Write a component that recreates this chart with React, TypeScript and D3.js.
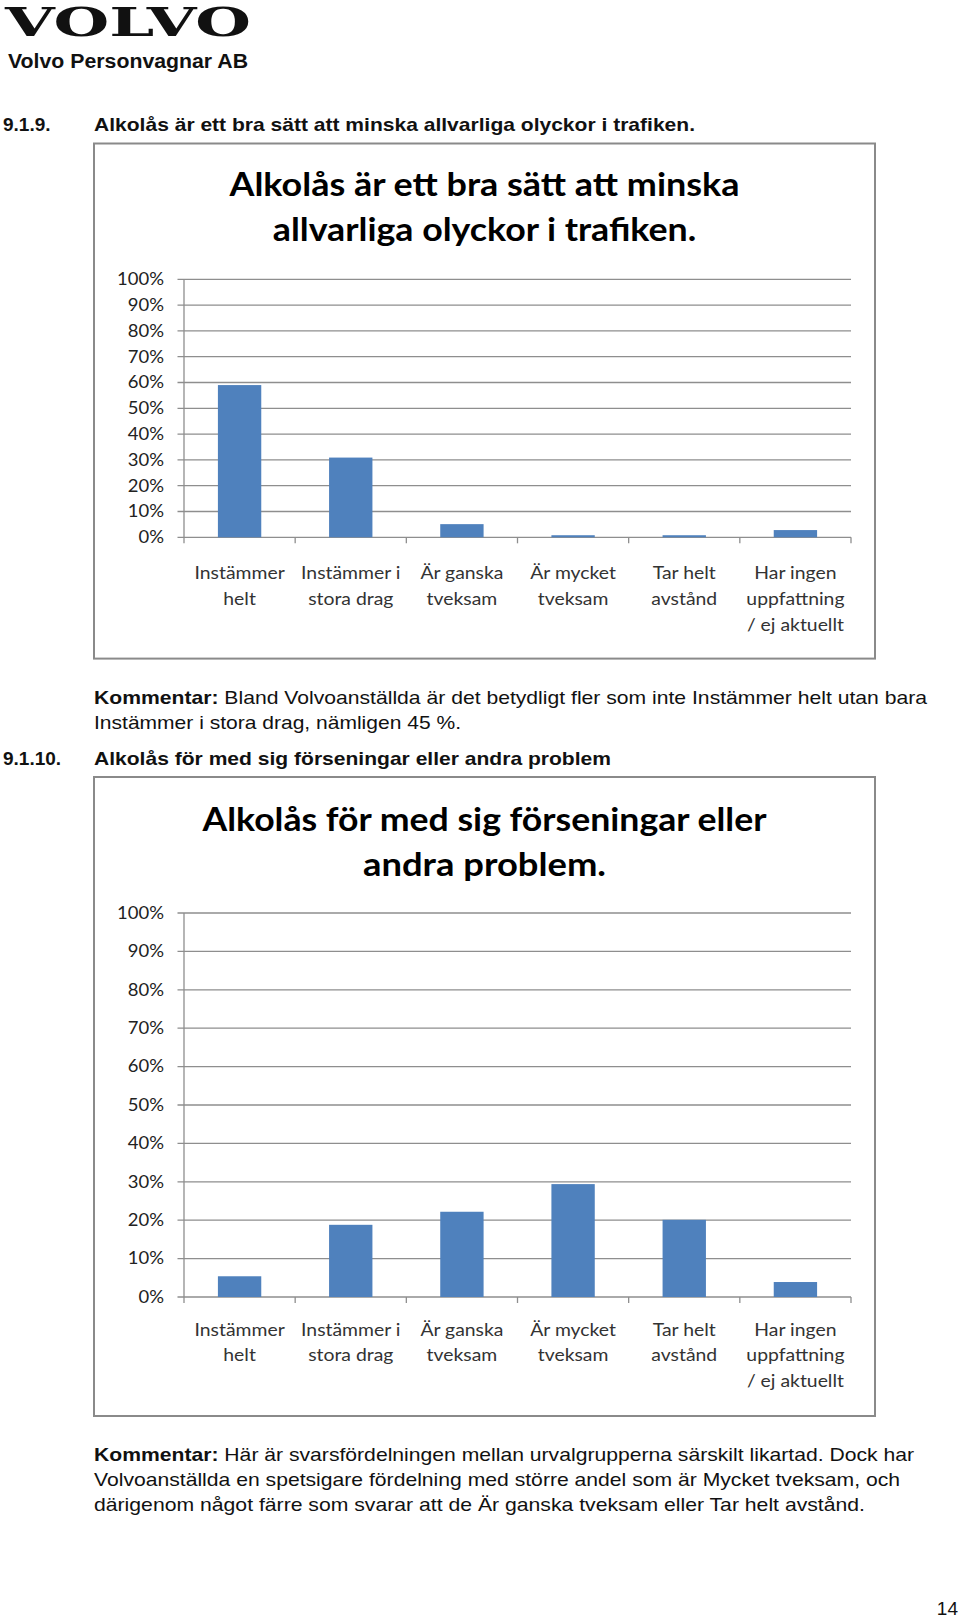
import React from 'react';
import * as d3 from 'd3';

const categories = [
  "Instämmer\nhelt",
  "Instämmer i\nstora drag",
  "Är ganska\ntveksam",
  "Är mycket\ntveksam",
  "Tar helt\navstånd",
  "Har ingen\nuppfattning\n/ ej aktuellt",
];
const values1 = [59.0, 30.9, 5.1, 0.8, 0.8, 2.8];
const values2 = [5.4, 18.8, 22.2, 29.4, 20.1, 3.9];
const yTicks = [0, 10, 20, 30, 40, 50, 60, 70, 80, 90, 100];
const title1 = ["Alkolås är ett bra sätt att minska", "allvarliga olyckor i trafiken."];
const title2 = ["Alkolås för med sig förseningar eller", "andra problem."];

const BODY = "'Liberation Sans', Arial, sans-serif";
const CHARTFONT = "Lato, 'Open Sans', sans-serif";

type ChartProps = {
  frameTop: number;
  frameBottom: number;
  y100: number;
  y0: number;
  titleBase: number[];
  titleWidths: number[];
  labelBase: number[];
  title: string[];
  values: number[];
};

function Chart(p: ChartProps) {
  const left = 184;
  const right = 851;
  const x = d3.scaleBand<string>().domain(categories).range([left, right]).padding(0);
  const y = d3.scaleLinear().domain([0, 100]).range([p.y0, p.y100]);
  const bw = x.bandwidth() * 0.39;
  const grid = "#8e8e8e";
  const cx = (94 + 875) / 2;
  return (
    <g>
      <rect x={94} y={p.frameTop} width={781} height={p.frameBottom - p.frameTop} fill="#fff" stroke="#8a8a8a" strokeWidth={2} />
      {p.title.map((t, i) => (
        <text key={i} x={cx} y={p.titleBase[i]} textAnchor="middle" fontFamily={CHARTFONT} fontWeight={700} fontSize={33}
          textLength={p.titleWidths[i]} lengthAdjust="spacingAndGlyphs" fill="#000">{t}</text>
      ))}
      {yTicks.map((t) => (
        <g key={t}>
          <line x1={177.5} x2={right} y1={y(t)} y2={y(t)} stroke={grid} strokeWidth={1.3} />
          <text transform={`translate(164,${y(t) + 5.8}) scale(1.12,1)`} textAnchor="end" fontFamily={CHARTFONT} fontSize={16.5} fill="#222">{t}%</text>
        </g>
      ))}
      <line x1={left} x2={left} y1={y(100)} y2={y(0) + 6} stroke={grid} strokeWidth={1.3} />
      {categories.map((c) => (
        <line key={c} x1={(x(c) as number) + x.bandwidth()} x2={(x(c) as number) + x.bandwidth()} y1={y(0)} y2={y(0) + 6} stroke={grid} strokeWidth={1.3} />
      ))}
      {categories.map((c, i) => (
        <rect key={c} x={(x(c) as number) + x.bandwidth() / 2 - bw / 2} width={bw} y={y(p.values[i])} height={y(0) - y(p.values[i])} fill="#4F81BD" />
      ))}
      {categories.map((c) => {
        const mid = (x(c) as number) + x.bandwidth() / 2;
        return c.split("\n").map((ln, j) => (
          <text key={c + j} transform={`translate(${mid},${p.labelBase[j]}) scale(1.14,1)`} textAnchor="middle" fontFamily={CHARTFONT} fontSize={17} fill="#333">{ln}</text>
        ));
      })}
    </g>
  );
}

export default function App() {
  return (
    <svg width={960} height={1619} style={{ position: 'absolute', left: 0, top: 0, background: '#fff' }}>
      <rect x={0} y={0} width={960} height={1619} fill="#fff" />
      <text x={5} y={36} fontFamily="'DejaVu Serif', serif" fontWeight={700} fontSize={38.5} textLength={246} lengthAdjust="spacingAndGlyphs" fill="#111">VOLVO</text>
      <text x={8} y={68} fontFamily={BODY} fontWeight={700} fontSize={19.5} textLength={240} lengthAdjust="spacingAndGlyphs" fill="#111">Volvo Personvagnar AB</text>

      <text x={3} y={131} fontFamily={BODY} fontWeight={700} fontSize={19} fill="#111">9.1.9.</text>
      <text x={94} y={131} fontFamily={BODY} fontWeight={700} fontSize={19} textLength={601} lengthAdjust="spacingAndGlyphs" fill="#111">Alkolås är ett bra sätt att minska allvarliga olyckor i trafiken.</text>

      <Chart frameTop={143.5} frameBottom={658.6} y100={279.3} y0={537.3} titleBase={[196, 241]} titleWidths={[510, 423.5]}
        labelBase={[579, 605, 631]} title={title1} values={values1} />

      <text x={94} y={704} fontFamily={BODY} fontSize={19} textLength={833} lengthAdjust="spacingAndGlyphs" fill="#111">
        <tspan fontWeight={700}>Kommentar:</tspan> Bland Volvoanställda är det betydligt fler som inte Instämmer helt utan bara</text>
      <text x={94} y={728.5} fontFamily={BODY} fontSize={19} textLength={367} lengthAdjust="spacingAndGlyphs" fill="#111">Instämmer i stora drag, nämligen 45 %.</text>

      <text x={3} y={765} fontFamily={BODY} fontWeight={700} fontSize={19} fill="#111">9.1.10.</text>
      <text x={94} y={765} fontFamily={BODY} fontWeight={700} fontSize={19} textLength={517} lengthAdjust="spacingAndGlyphs" fill="#111">Alkolås för med sig förseningar eller andra problem</text>

      <Chart frameTop={777} frameBottom={1416} y100={913} y0={1297} titleBase={[831, 876]} titleWidths={[564, 243]}
        labelBase={[1336, 1361, 1387]} title={title2} values={values2} />

      <text x={94} y={1461} fontFamily={BODY} fontSize={19} textLength={820} lengthAdjust="spacingAndGlyphs" fill="#111">
        <tspan fontWeight={700}>Kommentar:</tspan> Här är svarsfördelningen mellan urvalgrupperna särskilt likartad. Dock har</text>
      <text x={94} y={1486} fontFamily={BODY} fontSize={19} textLength={806} lengthAdjust="spacingAndGlyphs" fill="#111">Volvoanställda en spetsigare fördelning med större andel som är Mycket tveksam, och</text>
      <text x={94} y={1511} fontFamily={BODY} fontSize={19} textLength={771} lengthAdjust="spacingAndGlyphs" fill="#111">därigenom något färre som svarar att de Är ganska tveksam eller Tar helt avstånd.</text>

      <text x={958} y={1615} textAnchor="end" fontFamily={BODY} fontSize={19} fill="#111">14</text>
    </svg>
  );
}
